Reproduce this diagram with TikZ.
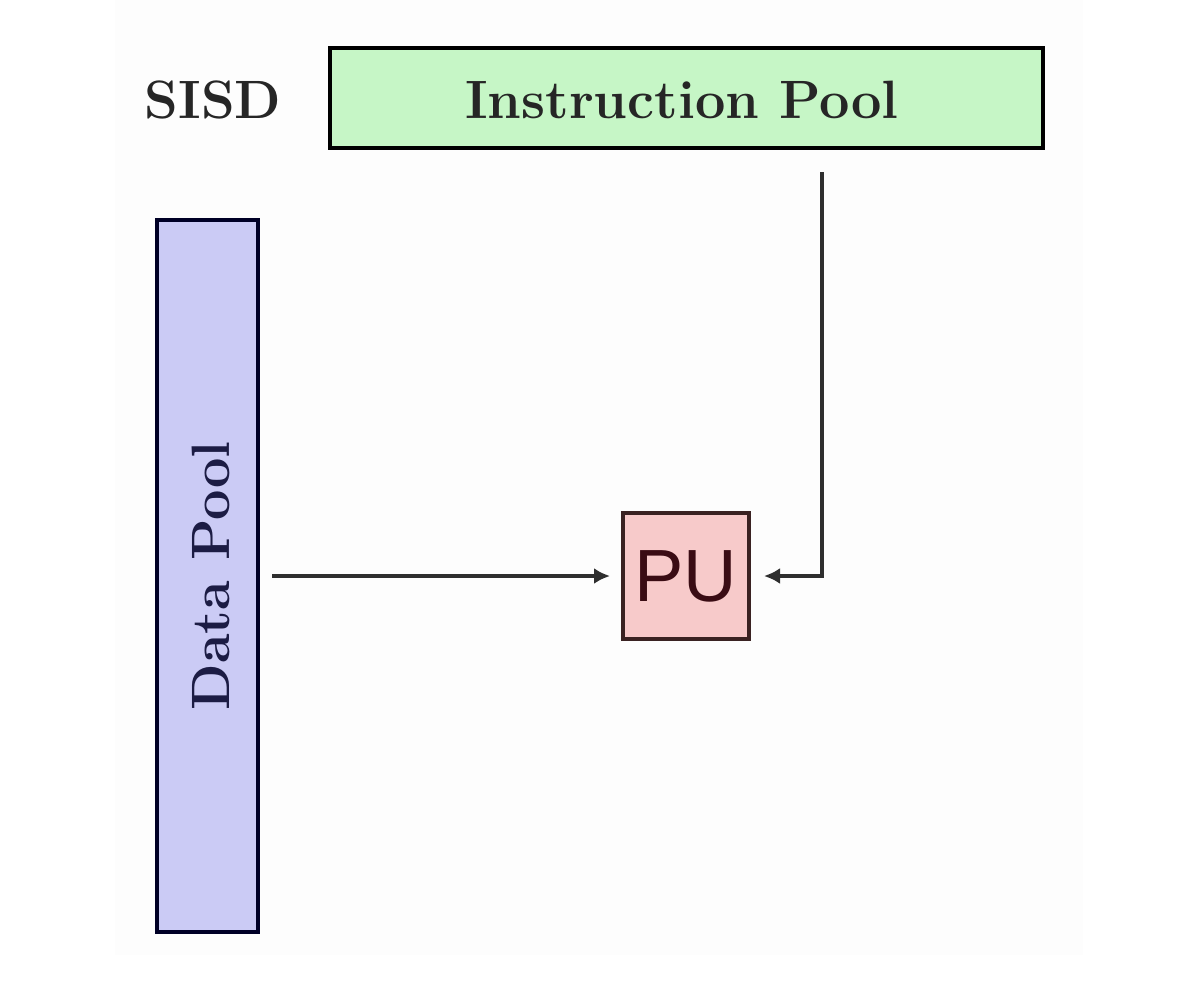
\documentclass[tikz,border=0pt]{standalone}
\usepackage{fontspec}
\newfontfamily\pufont{Liberation Sans}
\usetikzlibrary{arrows.meta}
\definecolor{ipfill}{HTML}{C6F6C6}
\definecolor{dpfill}{HTML}{CBCBF5}
\definecolor{pufill}{HTML}{F7CACA}
\definecolor{pudraw}{HTML}{3A2222}
\definecolor{putext}{HTML}{3A0C14}
\definecolor{dptext}{HTML}{1C1C44}
\definecolor{linecol}{HTML}{2E2E2E}
\tikzset{
  pool/.style={draw=black, line width=2pt, inner sep=0pt},
  lbl/.style={text=black!85, font=\bfseries\fontsize{27}{29}\selectfont},
  conn/.style={draw=linecol, line width=1.6pt, -{Latex[length=8pt,width=8pt]}},
}
\begin{document}
\begin{tikzpicture}[x=0.5pt,y=-0.5pt]
\useasboundingbox (0,0) rectangle (1200,981);
\fill[white] (0,0) rectangle (1200,981);
\fill[black!0.6] (115,0) rectangle (1083,955);
\node[lbl] (sisd) at (213,100) {SISD};
\node[pool, fill=ipfill, minimum width=356.5pt, minimum height=50pt] (ip) at (686.5,98) {};
\node[lbl] (ipl) at (682,100) {Instruction Pool};
\node[pool, draw=black!85!blue, fill=dpfill, minimum width=50.5pt, minimum height=356pt] (dp) at (207.5,576) {};
\node[lbl, rotate=90, text=dptext] (dpl) at (211,576) {Data Pool};
\node[pool, draw=pudraw, fill=pufill, minimum width=63pt, minimum height=63pt,
      text=putext, font=\pufont\fontsize{37}{39}\selectfont] (pu) at (686,576) {PU};
\coordinate (turn) at (822,576);
\draw[conn, shorten <=6pt, shorten >=5.5pt] (dp.east |- pu.west) -- (pu.west);
\draw[conn, shorten >=6.5pt] ([yshift=-11pt]ip.south -| turn) -- (turn) -- (pu.east);
\end{tikzpicture}
\end{document}
